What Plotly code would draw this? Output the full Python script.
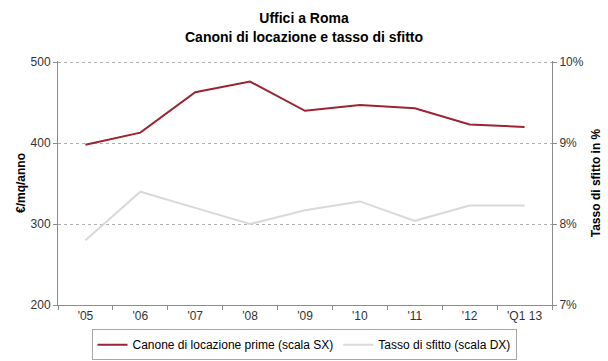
import plotly.graph_objects as go

# Periods on the category axis
periods = ["'05", "'06", "'07", "'08", "'09", "'10", "'11", "'12", "'Q1 13"]

# Prime rent (€/mq/anno), left scale
canone_prime = [398, 413, 463, 476, 440, 447, 443, 423, 420]

# Vacancy rate (%), right scale
tasso_sfitto = [7.8, 8.4, 8.2, 8.0, 8.17, 8.28, 8.04, 8.23, 8.23]

# Axis ticks
rent_ticks = [200, 300, 400, 500]
rate_ticks = [7, 8, 9, 10]
rate_labels = ["7%", "8%", "9%", "10%"]

FONT = "Liberation Sans Narrow, Arial Narrow, Liberation Sans, Arial, sans-serif"

fig = go.Figure()
fig.add_trace(go.Scatter(
    x=periods, y=canone_prime, mode="lines",
    name="Canone di locazione prime (scala SX)",
    line=dict(color="#9b2333", width=2),
    yaxis="y",
))
fig.add_trace(go.Scatter(
    x=periods, y=tasso_sfitto, mode="lines",
    name="Tasso di sfitto (scala DX)",
    line=dict(color="#d9d9d9", width=2),
    yaxis="y2",
))

fig.update_layout(
    width=608, height=361,
    margin=dict(l=58, r=56, t=61, b=56, autoexpand=False),
    paper_bgcolor="white", plot_bgcolor="white",
    font=dict(family=FONT, size=12, color="#333333"),
    title=dict(
        text="<b>Uffici a Roma<br>Canoni di locazione e tasso di sfitto</b>",
        x=0.5, xanchor="center", xref="container",
        y=0.935, yanchor="middle", yref="container",
        font=dict(family=FONT, size=14, color="#000000"),
    ),
    xaxis=dict(
        type="category", showgrid=False,
        showline=True, linecolor="#8c8c8c", linewidth=1,
        ticks="outside", tickson="boundaries", ticklen=4, tickcolor="#8c8c8c",
        tickfont=dict(size=12, color="#333333"),
        range=[-0.5, len(periods) - 0.5],
    ),
    yaxis=dict(
        range=[200, 501.5], tickvals=rent_ticks,
        showgrid=True, gridcolor="#b0b0b0", griddash="dot", gridwidth=1,
        showline=True, linecolor="#8c8c8c", linewidth=1,
        ticks="outside", ticklen=4, tickcolor="#8c8c8c",
        zeroline=False,
        title=dict(text="<b>€/mq/anno</b>", font=dict(size=12, color="#000000"), standoff=2),
        tickfont=dict(size=12, color="#333333"),
    ),
    yaxis2=dict(
        range=[7, 10.015], tickvals=rate_ticks, ticktext=rate_labels,
        overlaying="y", side="right",
        showgrid=False, zeroline=False,
        showline=True, linecolor="#8c8c8c", linewidth=1,
        ticks="outside", ticklen=4, tickcolor="#8c8c8c",
        title=dict(text="<b>Tasso di sfitto in %</b>", font=dict(size=12, color="#000000"), standoff=8),
        tickfont=dict(size=12, color="#333333"),
    ),
    legend=dict(
        orientation="h", x=0.5, xanchor="center", xref="container",
        y=0.045, yanchor="middle", yref="container",
        bordercolor="#a6a6a6", borderwidth=1,
        font=dict(size=12, color="#000000"),
        itemwidth=30, tracegroupgap=0,
    ),
    showlegend=True,
)

fig.write_html("out.html")
